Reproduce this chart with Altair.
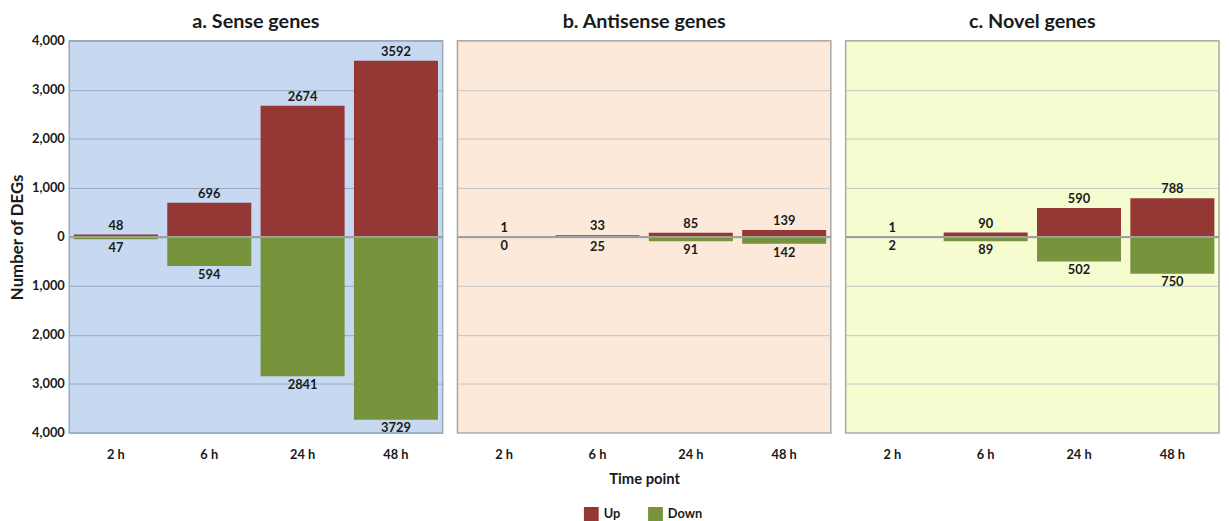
import altair as alt
import pandas as pd

FONT = "Lato"
TEXT = "#1a1a1a"

times = ["2 h", "6 h", "24 h", "48 h"]
panel_titles = ["a. Sense genes", "b. Antisense genes", "c. Novel genes"]
sense_up = [48, 696, 2674, 3592]
sense_down = [47, 594, 2841, 3729]
antisense_up = [1, 33, 85, 139]
antisense_down = [0, 25, 91, 142]
novel_up = [1, 90, 590, 788]
novel_down = [2, 89, 502, 750]
directions = ["Up", "Down"]
dir_colors = ["#953735", "#77933C"]
tick_values = [-4000, -3000, -2000, -1000, 0, 1000, 2000, 3000, 4000]

panel_fills = ["#C6D9F1", "#FDE9D9", "#F5FCCF"]
panel_strokes = ["#9AA8B8", "#A6A6A6", "#A6A6A6"]
grid_colors = ["#95AAC6", "#C4C4C4", "#C4C4C4"]
title_offsets = [3, 9, 9]


def make_df(up, down):
    rows = []
    for t, u in zip(times, up):
        rows.append({"time": t, "direction": "Up", "count": u, "signed": u})
    for t, d in zip(times, down):
        rows.append({"time": t, "direction": "Down", "count": d, "signed": -d})
    return pd.DataFrame(rows)


def panel(i, up, down):
    df = make_df(up, down)
    first = i == 0
    middle = i == 1
    x = alt.X(
        "time:N",
        sort=times,
        scale=alt.Scale(paddingInner=0.1, paddingOuter=0.05),
        axis=alt.Axis(
            title="Time point" if middle else None,
            labelAngle=0,
            ticks=False,
            domain=False,
            grid=False,
            labelPadding=16,
            labelFont=FONT,
            labelFontSize=13,
            labelFontWeight="bold",
            labelColor=TEXT,
            titleFont=FONT,
            titleFontSize=15,
            titleFontWeight="bold",
            titleColor=TEXT,
            titlePadding=10,
        ),
    )
    yscale = alt.Scale(domain=[-4000, 4000], nice=False, zero=True)
    yaxis = alt.Axis(
        values=tick_values,
        labelExpr="format(abs(datum.value), ',')",
        title="Number of DEGs" if first else None,
        labels=first,
        ticks=False,
        domain=False,
        grid=True,
        gridColor=grid_colors[i],
        gridWidth=1,
        labelPadding=5,
        labelFont=FONT,
        labelFontSize=13,
        labelFontWeight="bold",
        labelColor=TEXT,
        titleFont=FONT,
        titleFontSize=17,
        titleFontWeight="bold",
        titleColor=TEXT,
        titlePadding=5,
    )
    base = alt.Chart(df)
    bars = base.mark_bar().encode(
        x=x,
        y=alt.Y("signed:Q", scale=yscale, axis=yaxis),
        y2=alt.datum(0),
        color=alt.Color(
            "direction:N",
            scale=alt.Scale(domain=directions, range=dir_colors),
            legend=alt.Legend(title=None),
        ),
    )
    zero = base.mark_rule(color="#A0A0A0", strokeWidth=1.5).encode(y=alt.datum(0))
    up_text = base.transform_filter(alt.datum.direction == "Up").mark_text(
        baseline="bottom", dy=-2, font=FONT, fontSize=13, fontWeight="bold", color=TEXT
    ).encode(x=alt.X("time:N", sort=times), y="signed:Q", text="count:Q")
    down_text = base.transform_filter(alt.datum.direction == "Down").mark_text(
        baseline="top", dy=3, font=FONT, fontSize=13, fontWeight="bold", color=TEXT
    ).encode(x=alt.X("time:N", sort=times), y="signed:Q", text="count:Q")
    return alt.layer(bars, zero, up_text, down_text).properties(
        width=378,
        height=397,
        title=alt.TitleParams(
            text=panel_titles[i],
            font=FONT,
            fontSize=20,
            fontWeight="bold",
            color=TEXT,
            anchor="middle",
            frame="group",
            offset=title_offsets[i],
        ),
        view=alt.ViewBackground(fill=panel_fills[i], stroke=panel_strokes[i], strokeWidth=1.5),
    )


chart = alt.hconcat(
    panel(0, sense_up, sense_down),
    panel(1, antisense_up, antisense_down),
    panel(2, novel_up, novel_down),
    spacing=11,
).properties(padding=0, background="white").configure_legend(
    orient="none",
    legendX=521,
    legendY=472,
    direction="horizontal",
    symbolType="square",
    symbolSize=225,
    symbolStrokeWidth=0,
    labelFont=FONT,
    labelFontSize=13,
    labelFontWeight="bold",
    labelColor=TEXT,
    columnPadding=28,
    labelOffset=5,
    padding=0,
)

chart.save("out.html", embed_options={"renderer": "svg", "actions": False})
